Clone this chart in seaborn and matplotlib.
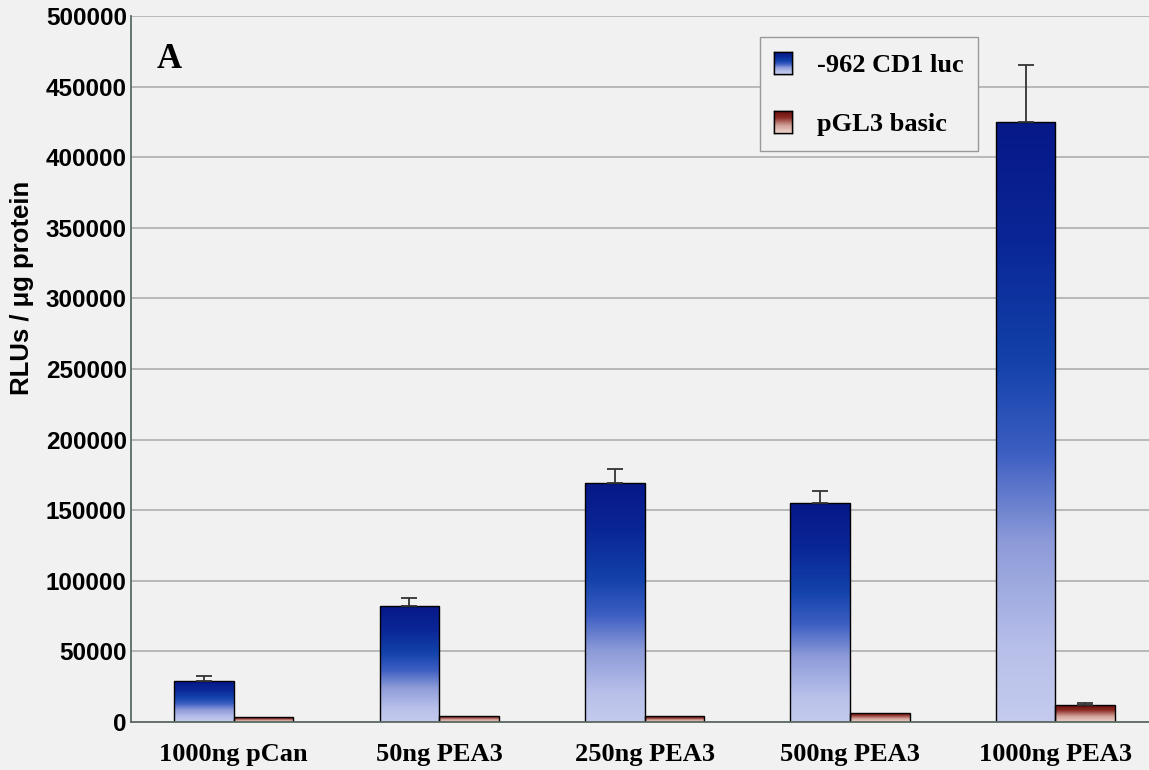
import numpy as np
import pandas as pd
import matplotlib
matplotlib.use("Agg")
import matplotlib.pyplot as plt
import seaborn as sns
from matplotlib.colors import LinearSegmentedColormap
from matplotlib.patches import Patch

# ---- data ----
categories = ["1000ng pCan", "50ng PEA3", "250ng PEA3", "500ng PEA3", "1000ng PEA3"]
series_names = ["-962 CD1 luc", "pGL3 basic"]
luc_values = [29000, 82000, 169000, 155000, 425000]
luc_errors = [3500, 6000, 10500, 8500, 40000]
basic_values = [3500, 4500, 4000, 6500, 12000]
basic_errors = [0, 0, 0, 0, 1500]
yticks = [0, 50000, 100000, 150000, 200000, 250000, 300000, 350000, 400000, 450000, 500000]

df = pd.DataFrame({
    "category": categories * 2,
    "series": [series_names[0]] * len(categories) + [series_names[1]] * len(categories),
    "value": luc_values + basic_values,
})
errors = luc_errors + basic_errors

bg = "#f1f1f1"
sns.set_theme(style="white")
plt.rcParams["font.family"] = ["Liberation Sans", "DejaVu Sans"]
plt.rcParams["text.color"] = "black"
plt.rcParams["xtick.color"] = "black"
plt.rcParams["ytick.color"] = "black"
plt.rcParams["axes.labelcolor"] = "black"

fig = plt.figure(figsize=(11.49, 7.70), dpi=100, facecolor=bg)
ax = fig.add_axes([0.114, 0.0623, 0.894, 0.917])
ax.set_facecolor(bg)

sns.barplot(data=df, x="category", y="value", hue="series", order=categories,
            hue_order=series_names, palette=["#2040b0", "#903030"], width=0.58,
            edgecolor="black", linewidth=1.0, errorbar=None, legend=False, ax=ax)

ax.set_ylim(0, 500000)
ax.set_xlim(-0.5, 4.5)

blue_cmap = LinearSegmentedColormap.from_list(
    "b", [(0.0, "#c4cbee"), (0.12, "#b8c0ea"), (0.3, "#8c9ad8"), (0.45, "#3c5ec2"),
          (0.6, "#1242aa"), (0.8, "#0a2696"), (1.0, "#071888")])
red_cmap = LinearSegmentedColormap.from_list(
    "r", [(0.0, "#eed6cc"), (0.35, "#d0a098"), (0.7, "#8a2a24"), (1.0, "#6a0e0c")])

grad = np.linspace(0, 1, 256).reshape(-1, 1)
patches = [p for p in ax.patches if p.get_height() > 0]
n = len(categories)
for i, p in enumerate(patches):
    x0, w, h = p.get_x(), p.get_width(), p.get_height()
    cmap = blue_cmap if i < n else red_cmap
    im = ax.imshow(grad, cmap=cmap, origin="lower", aspect="auto",
                   extent=(x0, x0 + w, 0, h), zorder=p.get_zorder() + 0.1)
    im.set_clip_path(p)
    p.set_facecolor("none")
    p.set_zorder(p.get_zorder() + 0.2)
    err = errors[i]
    if err > 0:
        ax.errorbar(x0 + w / 2, h, yerr=[[0], [err]], fmt="none", ecolor="#333333",
                    elinewidth=1.3, capsize=6, capthick=1.3, zorder=5)

ax.set_xlim(-0.5, 4.5)
ax.set_ylim(0, 500000)

ax.set_yticks(yticks)
ax.set_yticklabels([str(v) for v in yticks], fontsize=17.5, fontweight="bold")
ax.set_xticks(range(n))
ax.set_xticklabels(categories, fontsize=19, fontweight="bold", family=["Liberation Serif"])
ax.tick_params(axis="y", length=0, pad=3)
ax.tick_params(axis="x", length=0, pad=15)
ax.set_xlabel("")
ax.set_ylabel("RLUs / \u03bcg protein", fontsize=18.5, fontweight="bold")
ax.yaxis.set_label_coords(-0.094, 0.615)

ax.yaxis.grid(True, color="#a8a8a8", linewidth=1.1)
ax.set_axisbelow(True)
for s in ["top", "right"]:
    ax.spines[s].set_visible(False)
ax.spines["left"].set_color("#5a6a62")
ax.spines["left"].set_linewidth(1.3)
ax.spines["bottom"].set_color("#5a6a62")
ax.spines["bottom"].set_linewidth(1.3)

ax.set_xticks(np.arange(0.5, n - 0.5, 1.0), minor=True)
ax.tick_params(axis="x", which="minor", length=5, color="#5a6a62", direction="out")

ax.text(0.025, 0.962, "A", transform=ax.transAxes, fontsize=25, fontweight="bold",
        family=["Liberation Serif"], va="top", ha="left")

handles = [Patch(facecolor="#3050c0", edgecolor="black", label=series_names[0]),
           Patch(facecolor="#8a3030", edgecolor="black", label=series_names[1])]
leg = ax.legend(handles=handles, loc="upper left", bbox_to_anchor=(0.612, 0.97),
                frameon=True, fancybox=False, facecolor=bg, edgecolor="#999999",
                framealpha=1.0,
                prop={"family": "Liberation Serif", "weight": "bold", "size": 19},
                handlelength=0.68, handleheight=0.9, handletextpad=0.95,
                labelspacing=1.3, borderpad=0.55, borderaxespad=0)
leg.get_frame().set_linewidth(1.0)
leg.set_zorder(10)

# gradient fill for legend swatches
fig.canvas.draw()
W, H = fig.get_size_inches() * fig.dpi
for hnd, cmap in zip(leg.legend_handles, [blue_cmap, red_cmap]):
    bb = hnd.get_window_extent()
    sub = fig.add_axes([bb.x0 / W, bb.y0 / H, bb.width / W, bb.height / H])
    sub.imshow(grad, cmap=cmap, origin="lower", aspect="auto")
    sub.set_xticks([]); sub.set_yticks([])
    for s in sub.spines.values():
        s.set_color("black"); s.set_linewidth(1.0)

fig.savefig("out.png", dpi=100, facecolor=bg)
